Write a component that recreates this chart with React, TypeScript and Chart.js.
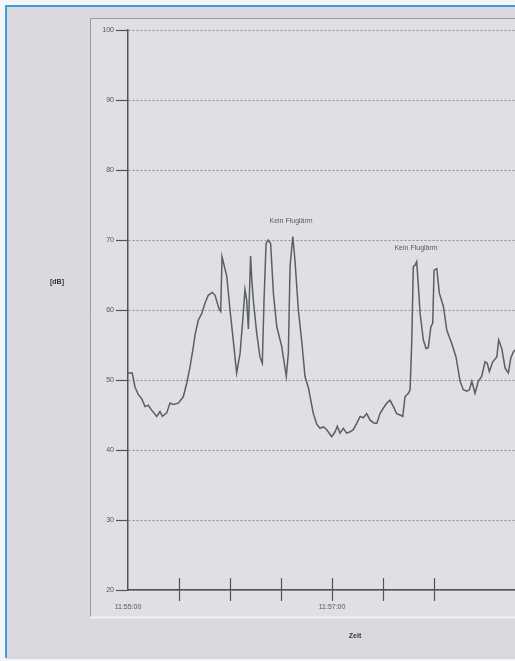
import React, { useEffect, useRef } from "react";
import { Chart, registerables } from "chart.js";

Chart.register(...registerables);

// seconds after 11:55:00
const timeSeconds = [
  0, 2.5, 4.1, 6.1, 8.1, 10, 11.9, 13.9, 16.9, 18.8, 20.2, 22.8, 24.7, 26.6, 29.6,
  32.5, 34.5, 36.5, 38.4, 39.4, 41.4, 43.4, 45.3, 47.2, 49.6, 51.2, 53.5, 54.5, 55.3,
  58.1, 60, 61.9, 63.9, 65.9, 67.5, 68.8, 69.8, 70.8, 72.1, 72.8, 73.7, 75.7, 77.6,
  79, 80, 81.2, 82.5, 83.9, 85.5, 87.5, 90.4, 93.1, 94.3, 95.3, 96.9, 98.2, 100.2,
  102.2, 104.1, 106.1, 107.1, 109, 111, 112.9, 114.9, 116.9, 119.8, 121.8, 123.1,
  124.7, 126.6, 128.6, 130.6, 132.5, 134.5, 136.5, 138.4, 140.4, 142.3, 144.3, 146.3,
  148.2, 150.2, 152.2, 154.1, 156.1, 158, 160, 161.6, 162.9, 164.9, 165.9, 166.9,
  167.8, 168.8, 169.8, 170.8, 171.8, 173.7, 175.3, 176.6, 178.1, 179.2, 180, 181.6,
  183.1, 185.5, 187.5, 190.4, 192.9, 195.3, 197.2, 199.2, 200.8, 202.2, 204.1, 206,
  208, 210, 211.3, 212.5, 214.5, 216.9, 218, 219.8, 221.8, 223.7, 225.1, 226.6, 227.6, 229,
];

const levelDb = [
  51, 51, 49, 47.9, 47.3, 46.2, 46.4, 45.7, 44.8, 45.5, 44.8, 45.3, 46.7, 46.5, 46.7,
  47.6, 49.5, 51.9, 54.7, 56.4, 58.6, 59.5, 61, 62.1, 62.5, 62.1, 60.2, 59.8, 67.6,
  64.8, 60, 55.7, 51, 53.8, 58.6, 62.9, 61.4, 57.3, 67.7, 64.3, 61.4, 56.7, 53.3,
  52.4, 61.4, 69.5, 70, 69.5, 62.4, 57.6, 54.8, 50.5, 53.8, 66.2, 70.5, 67.1, 60,
  55.5, 50.5, 48.9, 47.6, 45.2, 43.7, 43.1, 43.3, 42.9, 41.9, 42.6, 43.4,
  42.4, 43.1, 42.4, 42.6, 42.9, 43.8, 44.8, 44.6, 45.2, 44.3, 43.9, 43.8,
  45.2, 46, 46.7, 47.1, 46.2, 45.2, 45, 44.8, 47.6, 48.1, 48.6, 55.7,
  66.2, 66.4, 66.9, 63.3, 59.5, 55.7, 54.5, 54.6, 57.6, 58.1, 65.7, 65.9,
  62.4, 60.5, 57.1, 55.2, 53.3, 49.8, 48.6, 48.4, 48.6, 49.8, 48.1, 49.8,
  50.5, 52.6, 52.4, 51.2, 52.6, 53.3, 55.7, 54.5, 51.7, 51, 53.1, 54, 54.3, 54.5,
];

const yMin = 20;
const yMax = 100;
const yStep = 10;
const xMin = 0;
const xMax = 227.6;
const xTickStep = 30;
const xLabelStep = 120;
const startHour = 11;
const startMinute = 55;

const annotationTimes = [95.9, 169.4];
const annotationLevels = [72.7, 68.9];
const annotationTexts = ["Kein Fluglärm", "Kein Fluglärm"];

const yAxisTitle = "[dB]";
const yAxisTitleLevel = 64;
const xAxisTitle = "Zeit";
const xAxisTitleTime = 133.5;

const pad = (n: number) => (n < 10 ? "0" + n : "" + n);
const clockLabel = (sec: number) => {
  const total = startHour * 3600 + startMinute * 60 + Math.round(sec);
  const h = Math.floor(total / 3600);
  const m = Math.floor((total % 3600) / 60);
  const s = total % 60;
  return `${pad(h)}:${pad(m)}:${pad(s)}`;
};

const FONT = "'Liberation Sans', Arial, sans-serif";

const framePlugin = {
  id: "frame",
  beforeDraw(chart: any) {
    const { ctx, width, height } = chart;
    ctx.save();
    ctx.fillStyle = "#f4f5f7";
    ctx.fillRect(0, 0, width, height);
    ctx.fillStyle = "#dad9df";
    ctx.fillRect(6, 6, width - 6, height - 8);
    // blue frame
    ctx.strokeStyle = "#3f9fda";
    ctx.lineWidth = 2;
    ctx.beginPath();
    ctx.moveTo(width + 2, 6);
    ctx.lineTo(6, 6);
    ctx.lineTo(6, height - 3);
    ctx.stroke();
    // inner panel
    ctx.fillStyle = "#e0dfe4";
    ctx.fillRect(90, 18, width - 90, 599);
    ctx.strokeStyle = "#9c9ba2";
    ctx.lineWidth = 1;
    ctx.beginPath();
    ctx.moveTo(90.5, 617);
    ctx.lineTo(90.5, 18.5);
    ctx.lineTo(width, 18.5);
    ctx.stroke();
    ctx.strokeStyle = "#f7f7f9";
    ctx.lineWidth = 1.5;
    ctx.beginPath();
    ctx.moveTo(90, 617.5);
    ctx.lineTo(width, 617.5);
    ctx.stroke();
    ctx.restore();
  },
  afterDraw(chart: any) {
    const { ctx, scales } = chart;
    const xs = scales.x;
    const ys = scales.y;
    const axisY = ys.getPixelForValue(yMin);
    ctx.save();
    // x tick marks crossing the axis
    ctx.strokeStyle = "#4f5456";
    ctx.lineWidth = 1.2;
    xs.ticks.forEach((t: any) => {
      if (t.value <= xMin || t.value % xTickStep !== 0) return;
      const px = Math.round(xs.getPixelForValue(t.value)) + 0.5;
      ctx.beginPath();
      ctx.moveTo(px, axisY - 12);
      ctx.lineTo(px, axisY + 11);
      ctx.stroke();
    });
    // annotations
    ctx.fillStyle = "#5a5a60";
    ctx.font = `7px ${FONT}`;
    ctx.textAlign = "center";
    ctx.textBaseline = "middle";
    annotationTexts.forEach((txt, i) => {
      ctx.fillText(
        txt,
        xs.getPixelForValue(annotationTimes[i]),
        ys.getPixelForValue(annotationLevels[i])
      );
    });
    // axis titles
    ctx.fillStyle = "#333338";
    ctx.font = `bold 7px ${FONT}`;
    ctx.fillText(yAxisTitle, 57, ys.getPixelForValue(yAxisTitleLevel));
    ctx.fillText(xAxisTitle, xs.getPixelForValue(xAxisTitleTime), 636);
    ctx.restore();
  },
};

export default function App() {
  const ref = useRef<HTMLCanvasElement | null>(null);
  useEffect(() => {
    if (!ref.current) return;
    const points = timeSeconds.map((t, i) => ({ x: t, y: levelDb[i] }));
    const chart = new Chart(ref.current, {
      type: "line",
      data: {
        datasets: [
          {
            data: points,
            borderColor: "#596064",
            borderWidth: 1.5,
            pointRadius: 0,
            tension: 0,
            fill: false,
          },
        ],
      },
      options: {
        animation: false,
        responsive: false,
        maintainAspectRatio: false,
        layout: { padding: { top: 30, left: 0, right: 0, bottom: 0 } },
        plugins: {
          legend: { display: false },
          tooltip: { enabled: false },
          title: { display: false },
        },
        scales: {
          x: {
            type: "linear",
            min: xMin,
            max: xMax,
            afterFit: (s: any) => {
              s.height = 71;
              s.paddingRight = 0;
              s.paddingLeft = 0;
            },
            grid: { display: false, drawTicks: false },
            border: { display: true, color: "#4f5456", width: 1.5 },
            ticks: {
              stepSize: xTickStep,
              autoSkip: false,
              maxRotation: 0,
              padding: 13,
              color: "#55555c",
              font: { size: 7, family: FONT },
              callback: (v: any) => (Number(v) % xLabelStep === 0 ? clockLabel(Number(v)) : ""),
            },
          },
          y: {
            type: "linear",
            min: yMin,
            max: yMax,
            afterFit: (s: any) => {
              s.width = 128;
              s.paddingTop = 0;
              s.paddingBottom = 0;
            },
            grid: {
              color: "#8d8c94",
              lineWidth: 1,
              tickLength: 12,
              tickColor: "#4f5456",
              tickWidth: 1.2,
            },
            border: { display: true, color: "#4f5456", width: 1.5, dash: [2, 2] },
            ticks: {
              stepSize: yStep,
              padding: 2,
              color: "#55555c",
              font: { size: 7, family: FONT },
            },
          },
        },
      },
      plugins: [framePlugin],
    });
    return () => chart.destroy();
  }, []);
  return (
    <div style={{ position: "absolute", left: 0, top: 0, width: 515, height: 661, overflow: "hidden" }}>
      <canvas ref={ref} width={515} height={661} style={{ display: "block" }} />
    </div>
  );
}
